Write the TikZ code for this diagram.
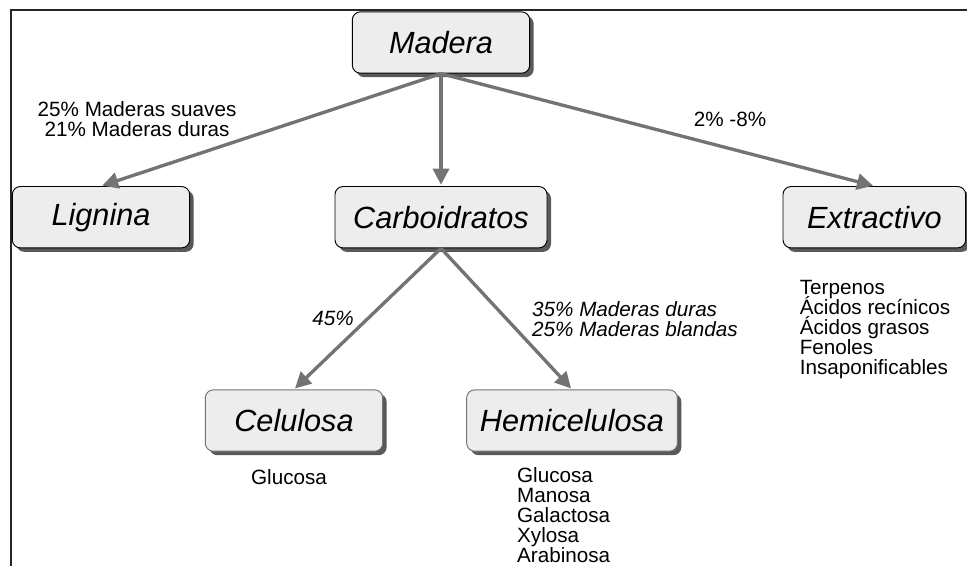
\documentclass[tikz,border=0pt]{standalone}
\usepackage{fontspec}
\setmainfont{Liberation Sans}
\usetikzlibrary{positioning,shadows,arrows.meta}

\begin{document}
\begin{tikzpicture} [
  box/.style={draw, rounded corners=6pt, fill=black!7, line width=0.7pt,
    minimum height=46pt, minimum width=133pt, inner xsep=8pt,
    font=\fontsize{23}{27}\selectfont\itshape,
    drop shadow={shadow xshift=3pt, shadow yshift=-3pt, fill=black!65, opacity=1}},
  lbl/.style={inner sep=0pt, align=center, font=\fontsize{15.5}{15}\selectfont},
  ilbl/.style={lbl, align=left, font=\fontsize{15.5}{15}\selectfont\itshape},
  lst/.style={inner sep=0pt, align=left,
    font={\fontsize{15.5}{15}\selectfont\lineskiplimit=-20pt}},
  frameline/.style={line width=1.5pt, black!85},
  parent anchor=south, child anchor=north,
  edge from parent/.style={draw=black!55, line width=2.5pt,
    -{Triangle[length=12pt,width=12pt]}, shorten >=1pt},
  level 1/.style={sibling distance=290pt, level distance=131pt},
  level 2/.style={sibling distance=208.5pt, level distance=152.5pt}
  ]
  \useasboundingbox (0,0) rectangle (725.25pt,-424.5pt);
  \draw[frameline] (725.25pt,-7.5pt) -- (8.25pt,-7.5pt) -- (8.25pt,-424.5pt);

  \node (n0) [box] at (330.75pt,-31.9pt) {Madera}
    child[xshift=35pt] {
      node (n1) [box] {Lignina}
    edge from parent node[lbl, pos=0.894, above=27pt] {25\% Maderas suaves\\21\% Maderas duras}}
    child {
      node (n2) [box, minimum width=159pt] {Carboidratos}
      child[xshift=-6pt] {
        node (n4) [box] {Celulosa}
      edge from parent node[ilbl, midway, left=9pt] {45\%}}
      child[xshift=-6pt] {
        node (n5) [box, minimum width=158pt] {Hemicelulosa}
      edge from parent node[ilbl, midway, right=18pt] {35\% Maderas duras\\25\% Maderas blandas}}
    }
    child[xshift=35pt] {
      node (n3) [box, minimum width=137pt] {Extractivo}
    edge from parent node[lbl, pos=0.667, above=15pt] {2\% -8\%}};

  \node (t3) [lst, below=24pt of n3.south west, anchor=north west, xshift=12.75pt]
    {Terpenos\\Ácidos recínicos\\Ácidos grasos\\Fenoles\\Insaponificables};
  \node (t4) [lst, below=13.5pt of n4, xshift=-3.75pt] {Glucosa};
  \node (t5) [lst, below=12pt of n5.south west, anchor=north west, xshift=38pt]
    {Glucosa\\Manosa\\Galactosa\\Xylosa\\Arabinosa};
\end{tikzpicture}
\end{document}
